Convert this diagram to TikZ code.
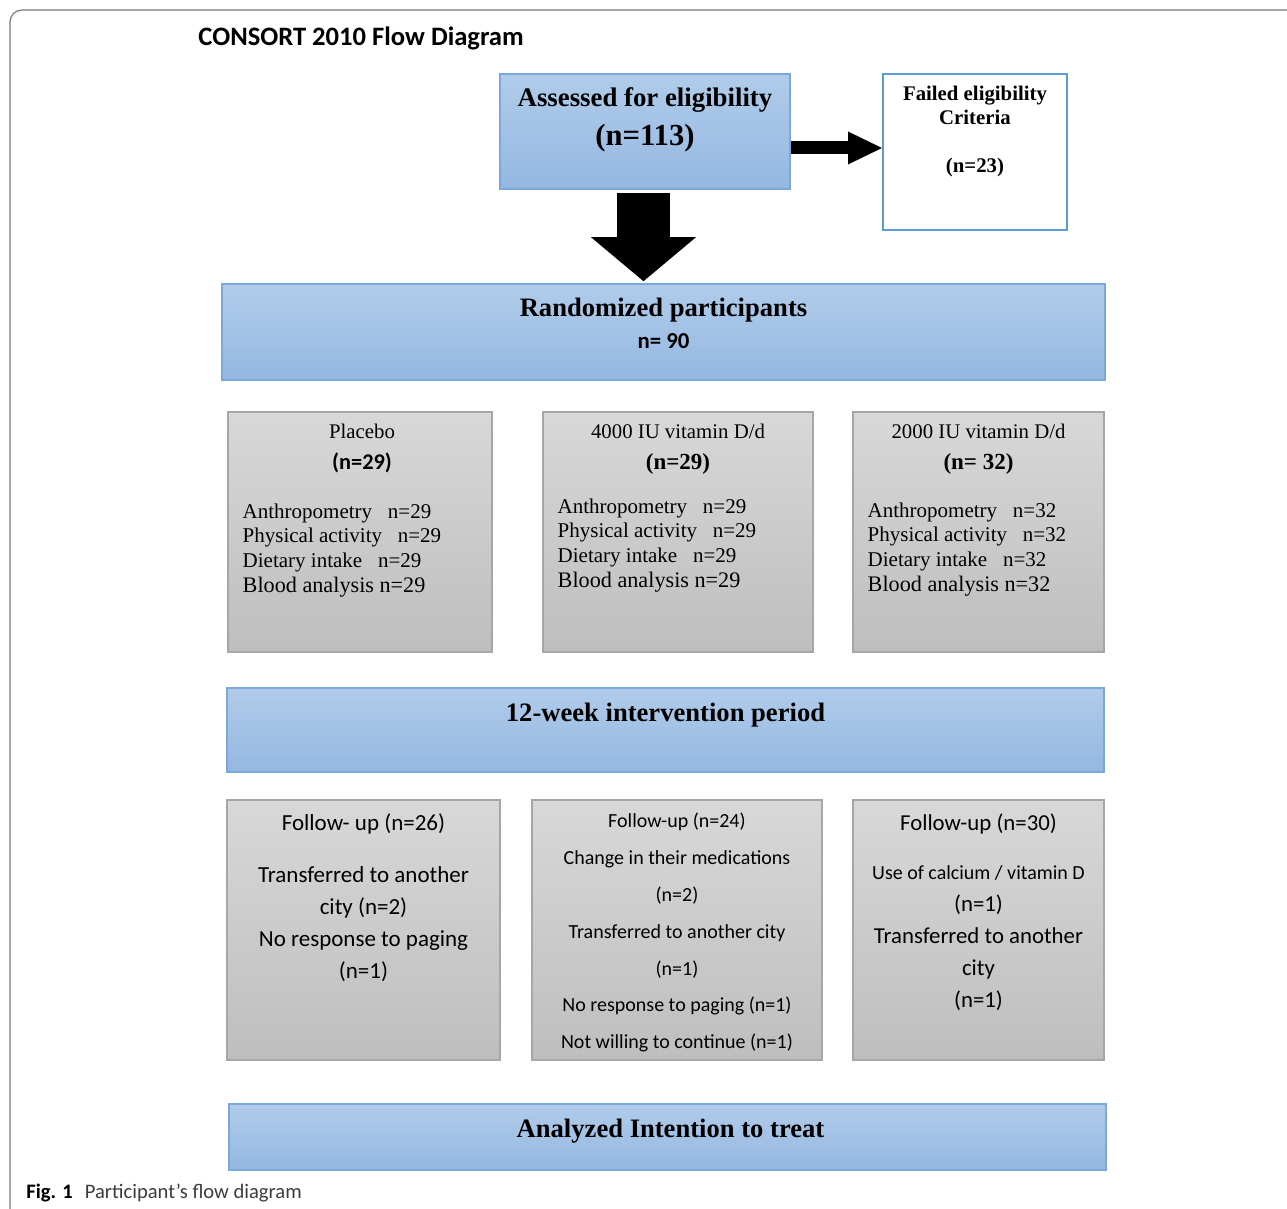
\documentclass[tikz,border=0pt]{standalone}
\usepackage{fontspec}
\setmainfont{Liberation Serif}
\setsansfont{Carlito}
\usepackage{tikz}
\usetikzlibrary{arrows.meta,calc}
\definecolor{bluetop}{HTML}{B1CCEA}
\definecolor{bluebot}{HTML}{94B7E1}
\definecolor{blueline}{HTML}{7BA7DB}
\definecolor{failline}{HTML}{5B9BD5}
\definecolor{greytop}{HTML}{D8D8D8}
\definecolor{greybot}{HTML}{BEBEBE}
\definecolor{greyline}{HTML}{A6A6A6}
\definecolor{framegrey}{HTML}{7A7A7A}
\definecolor{capgrey}{HTML}{3C3C3C}

\begin{document}
\begin{tikzpicture}[x=0.5pt,y=-0.5pt,line cap=butt,
			bluebox/.style={draw=blueline,line width=0.8pt,top color=bluetop,bottom color=bluebot,inner sep=0pt},
			greybox/.style={draw=greyline,line width=0.7pt,top color=greytop,bottom color=greybot,inner sep=0pt},
			txt/.style={inner sep=0pt,align=center,anchor=north},
			listtxt/.style={inner sep=0pt,align=left,anchor=north west,font=\fontsize{10.5}{12.3}\selectfont},
			fattip/.style={line width=26.5pt,-{Triangle[length=22pt,width=52.5pt,line width=0pt]}},
			thintip/.style={line width=6.5pt,-{Triangle[length=17pt,width=16.5pt,line width=0pt]}}]
			\useasboundingbox (0,0) rectangle (1287,1209);
			\draw[framegrey,line width=0.6pt,rounded corners=6pt] (1300,10) -- (10,10) -- (10,1220);
			\node[inner sep=0pt,anchor=north west,font=\sffamily\bfseries\fontsize{13.3}{16}\selectfont] (title) at (198,26) {CONSORT 2010 Flow Diagram};
			
			% boxes
			\node[bluebox,minimum width=145pt,minimum height=57.5pt] (assess) at (645,131.5) {};
			\node[draw=failline,line width=1pt,fill=white,minimum width=92pt,minimum height=78pt] (fail) at (975,152) {};
			\node[bluebox,minimum width=441.5pt,minimum height=48pt] (rand) at (663.5,332) {};
			\node[greybox,minimum width=132pt,minimum height=120pt] (plac) at (360,532) {};
			\node[greybox,minimum width=135pt,minimum height=120pt] (hi) at (678,532) {};
			\node[greybox,minimum width=125.5pt,minimum height=120pt] (lo) at (978.5,532) {};
			\node[bluebox,minimum width=438.5pt,minimum height=42pt] (period) at (665.5,730) {};
			\node[greybox,minimum width=136.5pt,minimum height=130pt] (fuA) at (363.5,930) {};
			\node[greybox,minimum width=145pt,minimum height=130pt] (fuB) at (677,930) {};
			\node[greybox,minimum width=125.5pt,minimum height=130pt] (fuC) at (978.5,930) {};
			\node[bluebox,minimum width=438.5pt,minimum height=33pt] (itt) at (667.5,1137) {};
			
			% arrows
			\draw[fattip] ($(assess.south)+(-1.5,3)$) -- ($(assess.south |- rand.north)+(-1.5,-2)$);
			\draw[thintip] ($(assess.east |- fail.west)+(0,-4)$) -- ($(fail.west)+(0,-4)$);
			
			% texts
			\node[txt,font=\bfseries\fontsize{13.4}{19.3}\selectfont] (assesstxt) at ($(assess.north)+(0,14)$) {Assessed for eligibility\\{\fontsize{15.3}{19.3}\selectfont(n=113)}};
			\node[txt,font=\bfseries\fontsize{10.4}{12}\selectfont] (failtxt) at ($(fail.north)+(0,13)$) {Failed eligibility\\Criteria\\[12pt](n=23)};
			\node[txt,font=\bfseries\fontsize{13.3}{16}\selectfont] (randtxt) at ($(rand.north)+(0,14)$) {Randomized participants\\{\sffamily\fontsize{11.4}{16}\selectfont n= 90}};
			
			\node[txt,font=\fontsize{10.4}{15.5}\selectfont] (plachead) at ($(plac.north)+(2,12)$) {Placebo\\{\sffamily\bfseries\fontsize{11.2}{15.5}\selectfont (n=29)}};
			\node[listtxt] (placlist) at ($(plac.north west)+(15,92)$) {Anthropometry~~~n=29\\Physical activity~~~n=29\\Dietary intake~~~n=29\\{\fontsize{11.1}{12.3}\selectfont Blood analysis n=29}};
			\node[txt,font=\fontsize{10.4}{15.5}\selectfont] (hihead) at ($(hi.north)+(0,12)$) {4000 IU vitamin D/d\\{\bfseries\fontsize{11.5}{15.5}\selectfont (n=29)}};
			\node[listtxt] (hilist) at ($(hi.north west)+(15,87)$) {Anthropometry~~~n=29\\Physical activity~~~n=29\\Dietary intake~~~n=29\\{\fontsize{11.1}{12.3}\selectfont Blood analysis n=29}};
			\node[txt,font=\fontsize{10.4}{15.5}\selectfont] (lohead) at ($(lo.north)+(0,12)$) {2000 IU vitamin D/d\\{\bfseries\fontsize{11.5}{15.5}\selectfont (n= 32)}};
			\node[listtxt] (lolist) at ($(lo.north west)+(15,91)$) {Anthropometry~~~n=32\\Physical activity~~~n=32\\Dietary intake~~~n=32\\{\fontsize{11.1}{12.3}\selectfont Blood analysis n=32}};
			
			\node[txt,font=\bfseries\fontsize{13.3}{16}\selectfont] (periodtxt) at ($(period.north)+(0,15)$) {12-week intervention period};
			
			\node[txt,font=\sffamily\fontsize{11.5}{16}\selectfont] (fuAtxt) at ($(fuA.north)+(0,14)$) {Follow- up (n=26)\\[10pt]Transferred to another\\city (n=2)\\No response to paging\\(n=1)};
			\node[txt,font=\sffamily\fontsize{10}{18.4}\selectfont] (fuBtxt) at ($(fuB.north)+(0,13.5)$) {Follow-up (n=24)\\Change in their medications\\(n=2)\\Transferred to another city\\(n=1)\\No response to paging (n=1)\\Not willing to continue (n=1)};
			\node[txt,font=\sffamily\fontsize{11.4}{16}\selectfont] (fuCtxt) at ($(fuC.north)+(0,14)$) {Follow-up (n=30)\\[8.5pt]{\fontsize{10}{16}\selectfont Use of calcium / vitamin D}\\(n=1)\\Transferred to another\\city\\(n=1)};
			
			\node[txt,font=\bfseries\fontsize{13.3}{16}\selectfont] (itttxt) at ($(itt.north)+(3,15)$) {Analyzed Intention to treat};
			
			\node[inner sep=0pt,anchor=base west,font=\sffamily\fontsize{10.3}{12}\selectfont,text=capgrey] (caption) at (26,1198) {\textcolor{black}{\bfseries Fig. 1}\hspace{6pt}Participant’s flow diagram};
		\end{tikzpicture}
\end{document}
